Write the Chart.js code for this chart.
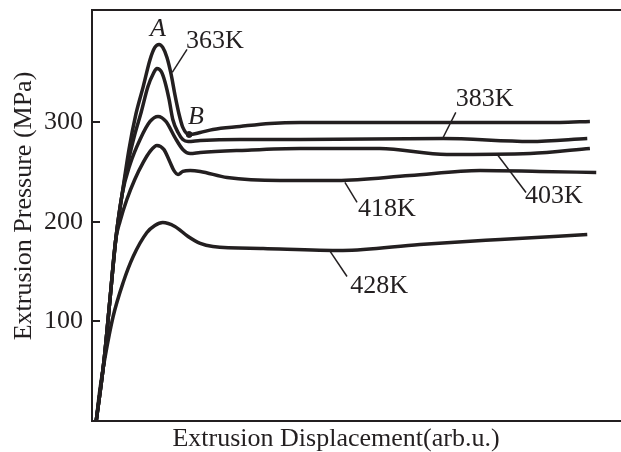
<!DOCTYPE html>
<html>
<head>
<meta charset="utf-8">
<script src="https://cdn.jsdelivr.net/npm/chart.js@4.4.1/dist/chart.umd.min.js"></script>
<style>
  html, body { margin: 0; padding: 0; background: #fff; }
  canvas { display: block; }
</style>
</head>
<body>
<canvas id="extrusionChart" width="621" height="452"></canvas>
<script>
// Displacement (arb.u., 0-100) and pressure (MPa) for each temperature
const disp363 = [0.8, 2.3, 3.4, 4.5, 5.7, 7.0, 8.3, 9.7, 11.0, 11.9, 12.7, 13.4, 14.2, 15.0, 15.7, 16.5, 17.2, 18.4, 20.5, 22.9, 28.0, 33.7, 39.4, 58.3, 77.3, 88.6, 94.3];
const pres363 = [0, 61.8, 122, 182.4, 227.6, 272.9, 308, 336, 363.3, 375.4, 378.4, 375.4, 365.3, 348, 328, 308, 295, 287.9, 289.9, 293, 296, 299, 300, 300, 300, 300, 301];

const disp383 = [0.8, 2.3, 3.4, 4.5, 5.7, 7.0, 8.1, 9.3, 10.6, 11.6, 12.3, 13.1, 13.8, 14.6, 15.3, 16.3, 17.2, 18.2, 20.5, 28.0, 39.4, 66.5, 83.0, 93.8];
const pres383 = [0, 61.8, 122, 182.4, 227.6, 263.8, 287.9, 310, 336.2, 349, 354.3, 351.3, 341.2, 323.1, 303, 289.9, 282.9, 280.9, 281.9, 282.9, 282.9, 283.9, 280.9, 283.9];

const disp403 = [0.8, 2.3, 3.4, 4.5, 5.7, 7.2, 9.1, 11.0, 12.5, 14.0, 15.7, 17.2, 18.6, 20.5, 28.0, 39.4, 54.5, 67.2, 83.0, 94.3];
const pres403 = [0, 61.8, 122, 182.4, 227.6, 257.8, 282.9, 301, 306, 301, 285, 272.9, 268.8, 269.8, 271.9, 273.9, 273.9, 267.8, 268.8, 273.9];

const disp418 = [0.8, 2.3, 3.4, 4.5, 5.3, 6.6, 8.1, 9.7, 11.0, 12.3, 13.6, 14.8, 15.5, 16.3, 17.2, 18.6, 20.5, 25.6, 35.6, 46.4, 60.2, 73.5, 84.8, 95.5];
const pres418 = [0, 61.8, 122, 182.4, 200.5, 222.6, 242.7, 259.8, 270.9, 276.9, 272.9, 259.8, 251.8, 247.7, 250.8, 251.8, 250.8, 244.7, 241.7, 241.7, 246.7, 251.8, 250.8, 249.7];

const disp428 = [0.8, 1.5, 2.5, 4.0, 5.9, 7.8, 10.4, 11.9, 13.4, 15.7, 18.2, 20.5, 22.9, 32.4, 47.5, 62.1, 77.3, 93.8];
const pres428 = [0, 31.7, 64.8, 105, 139.2, 165.3, 189.4, 196.5, 199.5, 195.5, 185.4, 178.4, 175.4, 173.4, 171.4, 177.4, 182.4, 187.4];

const yTicks = [100, 200, 300];

const INK = "#231f20";
const SERIF = "'Liberation Serif', 'Times New Roman', serif";

const curves = [
    { label: "363K", x: disp363, y: pres363 },
    { label: "383K", x: disp383, y: pres383 },
    { label: "403K", x: disp403, y: pres403 },
    { label: "418K", x: disp418, y: pres418 },
    { label: "428K", x: disp428, y: pres428 }
];

// Curve labels with their leader lines, in axis units
const callouts = [
    { text: "363K", at: [17.8, 381.4], from: [18.0, 373.4], to: [15.2, 350.3] },
    { text: "383K", at: [68.9, 323.1], from: [68.9, 310.1], to: [66.5, 284.9] },
    { text: "403K", at: [82.0, 225.6], from: [76.9, 266.8], to: [82.2, 229.6] },
    { text: "418K", at: [50.4, 212.6], from: [47.9, 239.7], to: [50.2, 219.6] },
    { text: "428K", at: [48.9, 135.2], from: [45.1, 170.4], to: [48.3, 145.2] }
];

// Italic point letters: A over the peak, B next to the dot
const letters = [
    { text: "A", at: [12.5, 393.5] },
    { text: "B", at: [19.7, 305] }
];

const datasets = curves.map(c => ({
    label: c.label,
    data: c.x.map((v, i) => ({ x: v, y: c.y[i] })),
    borderColor: INK,
    borderWidth: 3.5,
    pointRadius: 0,
    cubicInterpolationMode: "monotone",
    fill: false
}));

// dot B on the 363K curve
datasets.push({
    label: "B",
    data: [{ x: disp363[17], y: pres363[17] }],
    showLine: false,
    pointRadius: 3,
    pointBackgroundColor: INK,
    pointBorderColor: INK
});

const annotate = {
    id: "annotate",
    afterDatasetsDraw(chart) {
        const { ctx, chartArea: a, scales: { x, y } } = chart;
        ctx.save();

        // top and bottom edges run out to the canvas edge
        ctx.strokeStyle = INK;
        ctx.lineWidth = 2;
        ctx.beginPath();
        ctx.moveTo(a.left, a.top);
        ctx.lineTo(chart.width, a.top);
        ctx.moveTo(a.left, a.bottom);
        ctx.lineTo(chart.width, a.bottom);
        ctx.stroke();

        ctx.fillStyle = INK;
        ctx.textBaseline = "middle";
        ctx.lineWidth = 1.5;
        ctx.font = "26px " + SERIF;
        ctx.textAlign = "left";
        callouts.forEach(c => {
            ctx.beginPath();
            ctx.moveTo(x.getPixelForValue(c.from[0]), y.getPixelForValue(c.from[1]));
            ctx.lineTo(x.getPixelForValue(c.to[0]), y.getPixelForValue(c.to[1]));
            ctx.stroke();
            ctx.fillText(c.text, x.getPixelForValue(c.at[0]), y.getPixelForValue(c.at[1]));
        });

        ctx.font = "italic 26px " + SERIF;
        ctx.textAlign = "center";
        letters.forEach(l => {
            ctx.fillText(l.text, x.getPixelForValue(l.at[0]), y.getPixelForValue(l.at[1]));
        });

        // axis titles
        ctx.font = "26px " + SERIF;
        ctx.fillText("Extrusion Displacement(arb.u.)", a.left + 244, a.bottom + 18);
        ctx.translate(24.5, a.top + 196);
        ctx.rotate(-Math.PI / 2);
        ctx.fillText("Extrusion Pressure (MPa)", 0, 0);

        ctx.restore();
    }
};

Chart.defaults.font.family = SERIF;
Chart.defaults.color = INK;

new Chart(document.getElementById("extrusionChart"), {
    type: "line",
    data: { datasets },
    options: {
        responsive: false,
        animation: false,
        layout: { autoPadding: false, padding: { left: 0, top: 10, right: 1, bottom: 31 } },
        plugins: {
            legend: { display: false },
            tooltip: { enabled: false }
        },
        scales: {
            x: {
                type: "linear",
                min: 0,
                max: 100,
                display: false
            },
            y: {
                type: "linear",
                min: 0,
                max: 413,
                afterBuildTicks: s => { s.ticks = yTicks.map(v => ({ value: v })); },
                afterFit: s => {
                    // keep the plot box fixed; tick labels stay inside it
                    s.width = 92;
                    s.paddingTop = 0;
                    s.paddingBottom = 0;
                    s.paddingLeft = 0;
                    s.paddingRight = 0;
                },
                ticks: {
                    font: { size: 26 },
                    color: INK,
                    padding: 17
                },
                grid: {
                    drawOnChartArea: false,
                    drawTicks: true,
                    tickLength: -8,
                    color: INK,
                    lineWidth: 2
                },
                border: { display: true, color: INK, width: 2 }
            }
        }
    },
    plugins: [annotate]
});
</script>
</body>
</html>
